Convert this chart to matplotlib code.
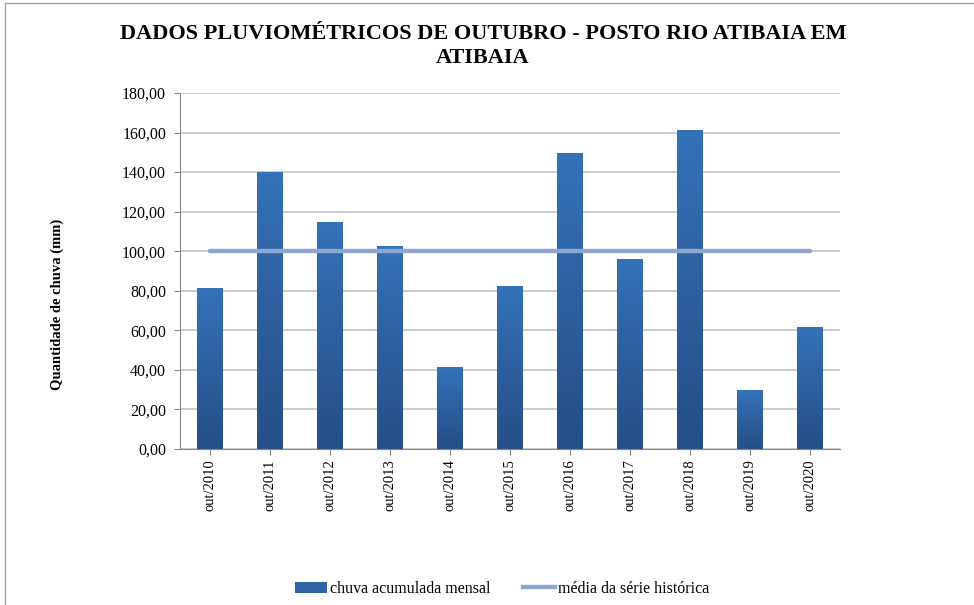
import numpy as np
import matplotlib
matplotlib.use('Agg')
from matplotlib import pyplot as plt
from matplotlib.lines import Line2D
from matplotlib.patches import Patch
from matplotlib.ticker import FuncFormatter


# Dados
categorias = ['out/2010', 'out/2011', 'out/2012', 'out/2013', 'out/2014', 'out/2015',
              'out/2016', 'out/2017', 'out/2018', 'out/2019', 'out/2020']
chuva_mensal = [81.5, 140.0, 114.8, 102.6, 41.5, 82.4, 149.8, 96.1, 161.3, 29.8, 61.7]
media_historica = [100.0] * len(categorias)

titulo = 'DADOS PLUVIOMÉTRICOS DE OUTUBRO - POSTO RIO ATIBAIA EM\nATIBAIA'
rotulo_y = 'Quantidade de chuva (mm)'
legenda = ['chuva acumulada mensal', 'média da série histórica']

plt.rcParams['font.family'] = ['Liberation Serif', 'DejaVu Serif']

fig = plt.figure(figsize=(9.74, 6.05), dpi=100)
ax = fig.add_axes([180/974, 1 - 449/605, 660/974, 356/605])

x = np.arange(len(categorias))
bars = ax.bar(x, chuva_mensal, width=0.42, color='#2F63A3', zorder=2)

# Gradiente vertical em cada barra (mais claro em cima)
grad = np.linspace(0, 1, 256).reshape(-1, 1)
cmap = matplotlib.colors.LinearSegmentedColormap.from_list('g', ['#254F87', '#3471B8'])
for b in bars:
    x0, y0 = b.get_x(), b.get_y()
    w, h = b.get_width(), b.get_height()
    im = ax.imshow(grad, cmap=cmap, aspect='auto', origin='lower',
                   extent=(x0, x0 + w, y0, y0 + h), zorder=2.1)
    im.set_clip_path(b)

ax.plot(x, media_historica, color='#8DA7CF', linewidth=3.2, solid_capstyle='round', zorder=3)

ax.set_xlim(-0.5, len(categorias) - 0.5)
ax.set_ylim(0, 180)
ax.set_yticks(np.arange(0, 181, 20))
ax.yaxis.set_major_formatter(FuncFormatter(lambda v, p: f'{v:.2f}'.replace('.', ',')))
ax.set_xticks(x)
ax.set_xticklabels(categorias, rotation=90, fontsize=10.5)
ax.tick_params(axis='y', labelsize=11.5, length=4, pad=6, color='#868686', direction='out')
ax.tick_params(axis='x', length=4, color='#868686', direction='out')
ax.grid(axis='y', color='#BDBDBD', linewidth=1.1, zorder=0)
ax.set_axisbelow(True)
for s in ['top', 'right']:
    ax.spines[s].set_visible(False)
ax.spines['left'].set_color('#868686')
ax.spines['bottom'].set_color('#868686')

ax.set_ylabel(rotulo_y, fontsize=10.5, fontweight='bold')
ax.yaxis.set_label_coords(-0.176, 0.407)

fig.text(483/974, 1 - 46/605, titulo, ha='center', va='center', fontsize=16,
         fontweight='bold', linespacing=1.3)

handles = [Patch(facecolor='#2F63A3'),
           Line2D([0], [0], color='#8DA7CF', linewidth=3.2)]
fig.legend(handles, legenda, loc='center', bbox_to_anchor=(502/974, 1 - 589/605),
           ncol=2, frameon=False, fontsize=11.5, handlelength=2.0, handletextpad=0.2,
           columnspacing=2.0)

# moldura da área do gráfico
fig.add_artist(Line2D([5/974, 1], [1 - 3/605, 1 - 3/605], color='#A0A0A0', linewidth=1))
fig.add_artist(Line2D([5/974, 5/974], [0, 1 - 3/605], color='#A0A0A0', linewidth=1))

fig.savefig('out.png', dpi=100)
